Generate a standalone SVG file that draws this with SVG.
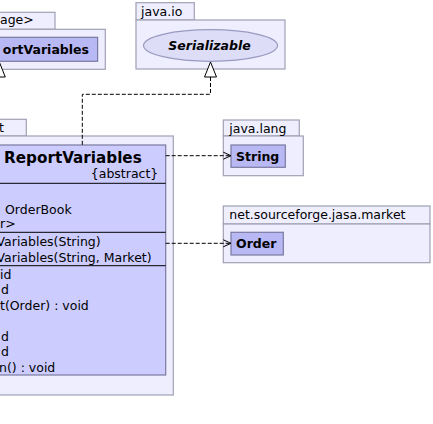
<svg xmlns="http://www.w3.org/2000/svg" width="433" height="424" viewBox="0 0 433 424">
<style>
text{font-family:"DejaVu Sans",sans-serif;font-size:12.5px;fill:#000}
.pkg{fill:#eeeeff;stroke:#a0a0b4;stroke-width:1.2}
.cls{fill:#ccccff;stroke:#7a7aa0;stroke-width:1.2}
.box{fill:#b8b8f4;stroke:#7a7aa0;stroke-width:1.2}
.b{font-weight:bold}
.hdr{font-size:15.2px}
.dash{fill:none;stroke:#000;stroke-width:1;stroke-dasharray:4,2}
.line{fill:none;stroke:#000;stroke-width:1}
</style>
<g id="pkg-default">
<rect class="pkg" x="-5" y="12.3" width="60" height="17"/>
<rect class="pkg" x="-5" y="29.3" width="110.3" height="40"/>
<text x="0" y="24">age&gt;</text>
</g>
<g id="node-ReportVariables">
<rect class="box" x="-5" y="37.3" width="102.6" height="24"/>
<text class="b" x="89" y="53.5" text-anchor="end">ortVariables</text>
</g>
<g id="pkg-java-io">
<rect class="pkg" x="136" y="2.7" width="58.3" height="17.3"/>
<rect class="pkg" x="136" y="20" width="149" height="49"/>
<text x="141" y="15.5">java.io</text>
</g>
<g id="node-Serializable">
<ellipse cx="210.5" cy="45.5" rx="67" ry="15.8" fill="#ddddf8" stroke="#9a9ac0" stroke-width="1.2"/>
<text class="b" x="209.5" y="50" text-anchor="middle" font-style="italic">Serializable</text>
</g>
<g id="pkg-main">
<rect class="pkg" x="-5" y="119.3" width="31.3" height="16.7"/>
<rect class="pkg" x="-5" y="136" width="178.3" height="259"/>
<text x="-1" y="131.5">t</text>
</g>
<g id="node-main-class">
<rect class="cls" x="-5" y="145" width="170.7" height="230"/>
<line class="line" x1="-5" y1="183.3" x2="165.7" y2="183.3"/>
<line class="line" x1="-5" y1="232.3" x2="165.7" y2="232.3"/>
<line class="line" x1="-5" y1="265.7" x2="165.7" y2="265.7"/>
<text class="b hdr" x="141.7" y="163" text-anchor="end">ReportVariables</text>
<text x="158.3" y="178" text-anchor="end">{abstract}</text>
<text x="5" y="213.5">OrderBook</text>
<text x="0" y="228">r&gt;</text>
<text x="-3.5" y="245.5">Variables(String)</text>
<text x="-3.5" y="261.5">Variables(String, Market)</text>
<text x="0" y="278.5">id</text>
<text x="1" y="294">d</text>
<text x="0" y="309.5">t(Order) : void</text>
<text x="1" y="340.5">d</text>
<text x="1" y="356">d</text>
<text x="-1" y="371.5">n() : void</text>
</g>
<g id="pkg-java-lang">
<rect class="pkg" x="223.3" y="120" width="76" height="16"/>
<rect class="pkg" x="223.3" y="136" width="80" height="39.7"/>
<text x="229.3" y="133.3">java.lang</text>
</g>
<g id="node-String">
<rect class="box" x="231" y="145" width="54.3" height="22.3"/>
<text class="b" x="236" y="160.5">String</text>
</g>
<g id="pkg-market">
<rect class="pkg" x="223.3" y="206" width="206.7" height="18"/>
<rect class="pkg" x="223.3" y="224" width="206.7" height="38.7"/>
<text x="229.3" y="218.5">net.sourceforge.jasa.market</text>
</g>
<g id="node-Order">
<rect class="box" x="231" y="232.3" width="52.3" height="22.7"/>
<text class="b" x="236" y="247.5">Order</text>
</g>
<g id="connectors">
<polygon points="-0.7,62 5.3,77 -6.7,77" fill="#fff" stroke="#000" stroke-width="1"/>
<path class="dash" d="M210.5,77 V94.3 H82.3 V145"/>
<polygon points="210.5,62 216.5,77 204.5,77" fill="#fff" stroke="#000" stroke-width="1"/>
<path class="dash" d="M165.7,155.7 H230"/>
<path class="line" d="M223.3,152.2 L231,155.7 L223.3,159.2"/>
<path class="dash" d="M165.7,243.3 H230"/>
<path class="line" d="M223.3,239.8 L231,243.3 L223.3,246.8"/>
</g>
</svg>
